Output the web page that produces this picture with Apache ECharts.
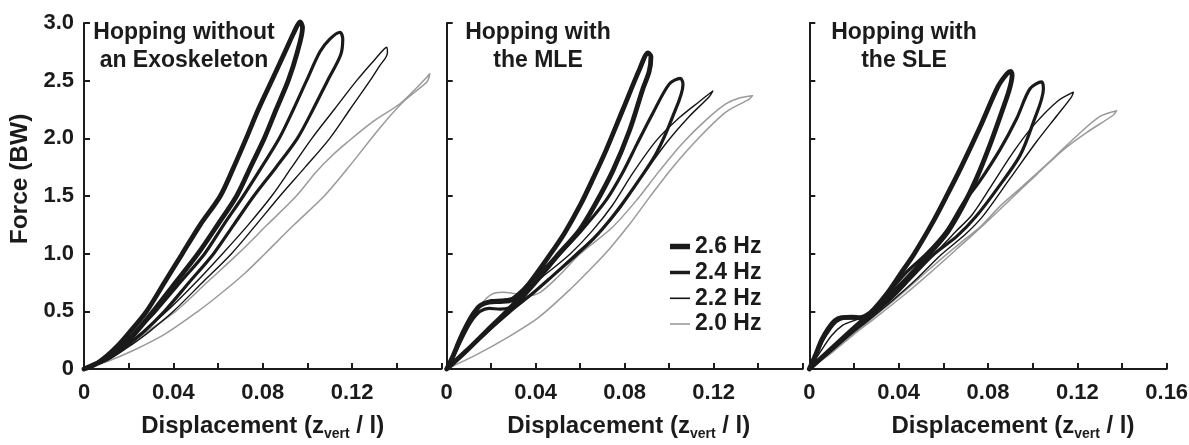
<!DOCTYPE html>
<html>
<head>
<meta charset="utf-8">
<script src="https://cdn.jsdelivr.net/npm/echarts@6/dist/echarts.min.js"></script>
<style>
html,body{margin:0;padding:0;background:#fff;}
#chart{width:1189px;height:445px;}
</style>
</head>
<body>
<div id="chart"></div>
<script>
// ---------- tick labels ----------
const yTickLabels = ['0', '0.5', '1.0', '1.5', '2.0', '2.5', '3.0'];
const xTickLabelsShort = ['0', '0.04', '0.08', '0.12'];
const xTickLabelsFull = ['0', '0.04', '0.08', '0.12', '0.16'];
const panelTitles = ['Hopping without\nan Exoskeleton', 'Hopping with\nthe MLE', 'Hopping with\nthe SLE'];
const freqNames = ['2.6 Hz', '2.4 Hz', '2.2 Hz', '2.0 Hz'];

// ---------- Panel 1: no exoskeleton  [displacement, force] ----------
const noExo26Load = [[0,0],[0.005,0.04],[0.01,0.11],[0.015,0.2],[0.02,0.31],[0.028,0.5],[0.036,0.75],[0.044,1.0],[0.052,1.25],[0.061,1.5],[0.067,1.75],[0.0726,2.0],[0.078,2.25],[0.084,2.5],[0.09,2.75],[0.094,2.92],[0.0967,3.01]];
const noExo26Unload = [[0.0978,2.96],[0.0955,2.75],[0.0914,2.5],[0.086,2.25],[0.0807,2.0],[0.0745,1.75],[0.0683,1.5],[0.0598,1.25],[0.051,1.0],[0.041,0.75],[0.031,0.5],[0.022,0.29],[0.015,0.16],[0.008,0.07],[0,0]];
const noExo24Load = [[0,0],[0.006,0.05],[0.012,0.13],[0.018,0.22],[0.025,0.36],[0.032,0.5],[0.043,0.75],[0.054,1.0],[0.0625,1.25],[0.0713,1.5],[0.0795,1.75],[0.0874,2.0],[0.0937,2.25],[0.0996,2.5],[0.1056,2.75],[0.11,2.86],[0.1146,2.92]];
const noExo24Unload = [[0.1158,2.86],[0.1148,2.72],[0.109,2.5],[0.1025,2.25],[0.0955,2.0],[0.086,1.75],[0.076,1.5],[0.067,1.25],[0.058,1.0],[0.047,0.75],[0.036,0.5],[0.026,0.31],[0.017,0.17],[0.009,0.07],[0,0]];
const noExo22Load = [[0,0],[0.007,0.05],[0.014,0.13],[0.021,0.24],[0.028,0.35],[0.037,0.5],[0.05,0.75],[0.062,1.0],[0.0735,1.25],[0.084,1.5],[0.093,1.75],[0.102,2.0],[0.112,2.25],[0.122,2.5],[0.13,2.68],[0.1355,2.79]];
const noExo22Unload = [[0.1358,2.74],[0.132,2.62],[0.128,2.5],[0.119,2.25],[0.11,2.0],[0.099,1.75],[0.0877,1.5],[0.077,1.25],[0.066,1.0],[0.053,0.75],[0.04,0.5],[0.029,0.32],[0.019,0.18],[0.01,0.07],[0,0]];
const noExo20Load = [[0,0],[0.008,0.06],[0.019,0.2],[0.03,0.35],[0.041,0.5],[0.055,0.75],[0.069,1.0],[0.082,1.25],[0.095,1.5],[0.1035,1.7],[0.1105,1.84],[0.1175,1.96],[0.129,2.14],[0.1414,2.3],[0.149,2.44],[0.1548,2.56]];
const noExo20Unload = [[0.1535,2.49],[0.148,2.4],[0.142,2.3],[0.1324,2.09],[0.118,1.74],[0.1075,1.5],[0.094,1.25],[0.081,1.0],[0.072,0.83],[0.061,0.65],[0.051,0.5],[0.036,0.3],[0.022,0.16],[0.011,0.07],[0,0]];

// ---------- Panel 2: MLE ----------
const mle26Load = [[0,0],[0.003,0.12],[0.006,0.26],[0.009,0.38],[0.012,0.48],[0.015,0.55],[0.019,0.58],[0.024,0.585],[0.028,0.59],[0.032,0.64],[0.037,0.74],[0.046,0.98],[0.053,1.18],[0.06,1.42],[0.066,1.66],[0.0717,1.9],[0.0792,2.25],[0.0867,2.6],[0.0905,2.74]];
const mle26Unload = [[0.0918,2.71],[0.091,2.58],[0.088,2.42],[0.0822,2.07],[0.0747,1.72],[0.0665,1.42],[0.0595,1.2],[0.0495,0.98],[0.041,0.79],[0.034,0.64],[0.027,0.5],[0.018,0.33],[0.009,0.16],[0,0]];
const mle24Load = [[0,0],[0.003,0.11],[0.006,0.24],[0.009,0.35],[0.012,0.44],[0.015,0.5],[0.019,0.525],[0.024,0.52],[0.028,0.53],[0.032,0.58],[0.038,0.7],[0.045,0.86],[0.051,1.0],[0.0605,1.2],[0.0715,1.46],[0.079,1.7],[0.0855,1.95],[0.0927,2.22],[0.1,2.47],[0.105,2.52]];
const mle24Unload = [[0.1062,2.47],[0.1016,2.19],[0.0942,1.87],[0.084,1.57],[0.0745,1.32],[0.066,1.13],[0.056,0.95],[0.046,0.78],[0.037,0.63],[0.03,0.53],[0.02,0.36],[0.01,0.18],[0,0]];
const mle22Load = [[0,0],[0.004,0.14],[0.008,0.3],[0.012,0.45],[0.016,0.56],[0.02,0.6],[0.025,0.605],[0.03,0.62],[0.036,0.69],[0.045,0.83],[0.0556,1.0],[0.0655,1.2],[0.0745,1.42],[0.0837,1.7],[0.0942,1.98],[0.1046,2.18],[0.1136,2.32],[0.1196,2.41]];
const mle22Unload = [[0.118,2.36],[0.109,2.19],[0.0987,1.96],[0.0867,1.64],[0.0775,1.38],[0.0695,1.2],[0.058,1.0],[0.048,0.82],[0.038,0.64],[0.028,0.48],[0.018,0.31],[0.009,0.15],[0,0]];
const mle20Load = [[0,0],[0.004,0.13],[0.008,0.29],[0.012,0.44],[0.016,0.57],[0.02,0.645],[0.025,0.665],[0.03,0.655],[0.036,0.635],[0.042,0.665],[0.05,0.8],[0.06,1.0],[0.074,1.22],[0.0852,1.46],[0.0957,1.72],[0.1061,1.96],[0.1166,2.16],[0.1256,2.3],[0.1315,2.35],[0.1375,2.37]];
const mle20Unload = [[0.136,2.34],[0.1256,2.23],[0.1136,2.01],[0.1016,1.75],[0.0912,1.49],[0.082,1.25],[0.0735,1.05],[0.0673,0.92],[0.056,0.7],[0.0415,0.45],[0.027,0.27],[0.013,0.12],[0,0]];

// ---------- Panel 3: SLE ----------
const sle26Load = [[0,0],[0.003,0.13],[0.0055,0.25],[0.0085,0.35],[0.0115,0.42],[0.0145,0.445],[0.019,0.45],[0.0227,0.445],[0.0257,0.465],[0.029,0.52],[0.035,0.66],[0.041,0.83],[0.047,1.0],[0.0555,1.28],[0.062,1.52],[0.068,1.75],[0.0765,2.1],[0.0845,2.45],[0.0885,2.56],[0.0902,2.58]];
const sle26Unload = [[0.0908,2.55],[0.0895,2.42],[0.086,2.22],[0.081,1.95],[0.075,1.66],[0.069,1.42],[0.062,1.19],[0.052,0.96],[0.042,0.75],[0.033,0.58],[0.026,0.46],[0.018,0.32],[0.009,0.16],[0,0]];
const sle24Load = [[0,0],[0.003,0.12],[0.006,0.25],[0.009,0.34],[0.012,0.41],[0.016,0.44],[0.02,0.44],[0.024,0.45],[0.028,0.5],[0.035,0.65],[0.043,0.83],[0.0525,1.0],[0.0615,1.2],[0.069,1.44],[0.076,1.62],[0.0853,1.9],[0.0928,2.17],[0.0988,2.43],[0.104,2.49]];
const sle24Unload = [[0.1048,2.43],[0.1003,2.14],[0.0943,1.85],[0.084,1.56],[0.0745,1.32],[0.066,1.15],[0.0555,0.99],[0.046,0.8],[0.036,0.6],[0.027,0.45],[0.018,0.3],[0.009,0.15],[0,0]];
const sle22Load = [[0,0],[0.005,0.15],[0.01,0.29],[0.015,0.38],[0.02,0.42],[0.025,0.46],[0.03,0.54],[0.04,0.72],[0.048,0.86],[0.057,1.02],[0.066,1.2],[0.073,1.34],[0.0809,1.57],[0.0913,1.88],[0.1003,2.11],[0.111,2.32],[0.1182,2.4]];
const sle22Unload = [[0.1174,2.36],[0.111,2.2],[0.1017,1.97],[0.0898,1.65],[0.0779,1.33],[0.07,1.17],[0.059,0.99],[0.048,0.78],[0.037,0.59],[0.027,0.43],[0.018,0.29],[0.009,0.14],[0,0]];
const sle20Load = [[0,0],[0.01,0.15],[0.02,0.31],[0.03,0.47],[0.04,0.63],[0.05,0.8],[0.06,0.97],[0.07,1.13],[0.0764,1.23],[0.0853,1.41],[0.0958,1.59],[0.1077,1.8],[0.1197,2.02],[0.1301,2.19],[0.1376,2.24]];
const sle20Unload = [[0.136,2.2],[0.1241,2.05],[0.1137,1.9],[0.102,1.69],[0.09,1.47],[0.078,1.25],[0.066,1.04],[0.055,0.85],[0.043,0.65],[0.03,0.45],[0.02,0.3],[0.01,0.14],[0,0]];

// ---------- build ----------
const FONT = '"Liberation Sans", Arial, Helvetica, sans-serif';
const INK = '#1b1b1b';

const panels = [
  { loops: [[noExo20Load, noExo20Unload], [noExo22Load, noExo22Unload], [noExo24Load, noExo24Unload], [noExo26Load, noExo26Unload]] },
  { loops: [[mle20Load, mle20Unload], [mle22Load, mle22Unload], [mle24Load, mle24Unload], [mle26Load, mle26Unload]] },
  { loops: [[sle20Load, sle20Unload], [sle22Load, sle22Unload], [sle24Load, sle24Unload], [sle26Load, sle26Unload]] }
];
// drawn order: 2.0, 2.2, 2.4, 2.6
const loopStyles = [
  { name: '2.0 Hz', color: '#9a9a9a', width: 1.5 },
  { name: '2.2 Hz', color: '#141414', width: 1.4 },
  { name: '2.4 Hz', color: '#1a1a1a', width: 3.2 },
  { name: '2.6 Hz', color: '#1a1a1a', width: 4.8 }
];

const gridRects = [
  { left: 84, top: 23, width: 357.5, height: 346 },
  { left: 446.7, top: 23, width: 356, height: 346 },
  { left: 809.3, top: 23, width: 357.4, height: 346 }
];
const titleCenters = [184, 538, 904];
const xNamePad = [0, 8, 50];

const grid = gridRects.map(r => Object.assign({ containLabel: false, outerBoundsMode: 'none' }, r));

const axisLineStyle = { color: INK, width: 2 };

function xLabelFormatter(labels) {
  return function (v) {
    const k = Math.round(v * 100);
    for (const s of labels) {
      if (Math.round(parseFloat(s) * 100) === k) return s;
    }
    return '';
  };
}
function yLabelFormatter(v) {
  const k = Math.round(v * 10);
  for (const s of yTickLabels) {
    if (Math.round(parseFloat(s) * 10) === k) return s;
  }
  return '';
}

const xAxis = gridRects.map((r, i) => ({
  type: 'value',
  gridIndex: i,
  min: 0,
  max: 0.16,
  interval: 0.02,
  splitLine: { show: false },
  axisLine: { show: true, onZero: false, lineStyle: axisLineStyle },
  axisTick: { show: true, inside: true, length: 6, lineStyle: { color: INK, width: 2 } },
  axisLabel: {
    show: true,
    margin: 13,
    fontFamily: FONT,
    fontWeight: 'bold',
    fontSize: 22,
    color: INK,
    showMinLabel: true,
    showMaxLabel: true,
    hideOverlap: false,
    formatter: xLabelFormatter(i === 2 ? xTickLabelsFull : xTickLabelsShort)
  },
  name: '{a|Displacement (z}{s|vert}{a| / l)}',
  nameLocation: 'middle',
  nameGap: 42,
  nameMoveOverlap: false,
  nameTextStyle: {
    padding: [0, 0, 0, xNamePad[i]],
    rich: {
      a: { fontFamily: FONT, fontWeight: 'bold', fontSize: 24, color: INK, lineHeight: 30 },
      s: { fontFamily: FONT, fontWeight: 'bold', fontSize: 14, color: INK, lineHeight: 18, verticalAlign: 'bottom' }
    }
  }
}));

const yAxis = gridRects.map((r, i) => ({
  type: 'value',
  gridIndex: i,
  min: 0,
  max: 3,
  interval: 0.5,
  splitLine: { show: false },
  axisLine: { show: true, onZero: false, lineStyle: axisLineStyle },
  axisTick: { show: true, inside: true, length: 6, lineStyle: { color: INK, width: 2 } },
  axisLabel: {
    show: i === 0,
    margin: 10,
    fontFamily: FONT,
    fontWeight: 'bold',
    fontSize: 22,
    color: INK,
    formatter: yLabelFormatter
  },
  name: i === 0 ? 'Force (BW)' : '',
  nameLocation: 'middle',
  nameGap: 51,
  nameMoveOverlap: false,
  nameTextStyle: {
    fontFamily: FONT, fontWeight: 'bold', fontSize: 24.5, color: INK,
    padding: [0, 0, 0, 34]
  }
}));

const series = [];
panels.forEach((p, pi) => {
  p.loops.forEach((lp, li) => {
    const st = loopStyles[li];
    series.push({
      type: 'line',
      name: st.name,
      xAxisIndex: pi,
      yAxisIndex: pi,
      data: lp[0].concat(lp[1]),
      symbol: 'none',
      showSymbol: false,
      smooth: 0.3,
      clip: false,
      silent: true,
      lineStyle: { color: st.color, width: st.width, cap: 'round', join: 'round' },
      itemStyle: { color: st.color },
      z: 2 + li
    });
  });
});

const title = panelTitles.map((t, i) => ({
  text: t,
  left: titleCenters[i],
  top: 18,
  textAlign: 'center',
  padding: 0,
  textStyle: { fontFamily: FONT, fontWeight: 'bold', fontSize: 23, lineHeight: 28.5, color: INK }
}));

// legend: one component per row so each icon has its own thickness
const legendRows = [
  { name: '2.6 Hz', h: 5.5, top: 234.5 },
  { name: '2.4 Hz', h: 3.5, top: 260.5 },
  { name: '2.2 Hz', h: 1.6, top: 286.3 },
  { name: '2.0 Hz', h: 1.6, top: 312 }
];
const legend = legendRows.map(r => ({
  data: [r.name],
  orient: 'vertical',
  left: 670,
  top: r.top,
  padding: 0,
  icon: 'rect',
  itemWidth: 20,
  itemHeight: r.h,
  selectedMode: false,
  textStyle: { fontFamily: FONT, fontWeight: 'bold', fontSize: 23, lineHeight: 24, color: INK }
}));

const chart = echarts.init(document.getElementById('chart'), null, { renderer: 'canvas' });
chart.setOption({
  animation: false,
  backgroundColor: '#ffffff',
  title: title,
  legend: legend,
  grid: grid,
  xAxis: xAxis,
  yAxis: yAxis,
  series: series
});
</script>
</body>
</html>
